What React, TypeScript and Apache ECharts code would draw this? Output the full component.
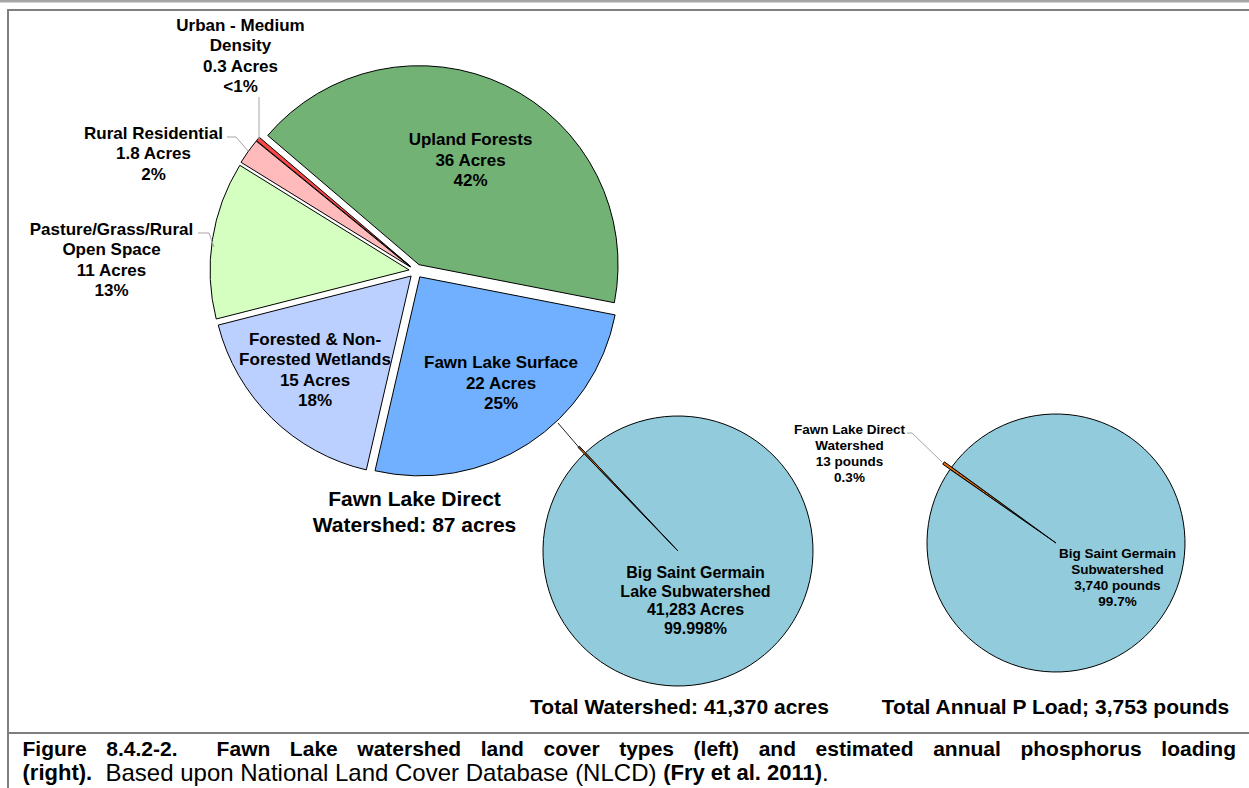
import React, { useEffect, useRef } from 'react';
import * as echarts from 'echarts';

// ---------- data ----------
const landCoverNames = [
  'Upland Forests',
  'Fawn Lake Surface',
  'Forested & Non-\nForested Wetlands',
  'Pasture/Grass/Rural\nOpen Space',
  'Rural Residential',
  'Urban - Medium\nDensity',
];
const landCoverAcres = [36, 22, 15, 11, 1.8, 0.3];
const landCoverAcreLabels = ['36', '22', '15', '11', '1.8', '0.3'];
const landCoverPercentLabels = ['42%', '25%', '18%', '13%', '2%', '<1%'];

const watershedNames = ['Fawn Lake Direct Watershed', 'Big Saint Germain\nLake Subwatershed'];
const watershedAcres = [87, 41283];
const watershedAcreLabels = ['87', '41,283'];
const watershedPercentLabels = ['0.2%', '99.998%'];

const loadNames = ['Fawn Lake Direct\nWatershed', 'Big Saint Germain\nSubwatershed'];
const loadPounds = [13, 3740];
const loadPoundLabels = ['13', '3,740'];
const loadPercentLabels = ['0.3%', '99.7%'];

const leftTitle = 'Fawn Lake Direct\nWatershed: 87 acres';
const middleTitle = 'Total Watershed: 41,370 acres';
const rightTitle = 'Total Annual P Load; 3,753 pounds';

const captionLine1Words = [
  'Figure', '8.4.2-2.', 'Fawn', 'Lake', 'watershed', 'land', 'cover', 'types', '(left)',
  'and', 'estimated', 'annual', 'phosphorus', 'loading',
];
const captionLine2 = [
  { text: '(right).', bold: true },
  { text: '  Based upon National Land Cover Database (NLCD) ', bold: false },
  { text: '(Fry et al. 2011)', bold: true },
  { text: '.', bold: false },
];

// ---------- styles ----------
const landCoverColors = ['#72B275', '#71B0FF', '#BCD0FF', '#D4FFC0', '#FFBBBB', '#FF4545'];
const smallSliceColor = '#E46C0A';
const bigSliceColor = '#92CCDC';
const FONT = "'Liberation Sans', Arial, Helvetica, sans-serif";

function measure(text: string, font: string): number {
  const ctx = document.createElement('canvas').getContext('2d')!;
  ctx.font = font;
  return ctx.measureText(text).width;
}

export default function App() {
  const ref = useRef<HTMLDivElement>(null);

  useEffect(() => {
    document.body.style.margin = '0';
    const chart = echarts.init(ref.current!, null, { renderer: 'svg' });

    const labelBase = {
      color: '#000',
      fontFamily: FONT,
      fontWeight: 'bold' as const,
    };

    const leftGeom = { center: [416, 271], radius: 199, startAngle: 139.5 };
    const midGeom = { center: [678, 551], radius: 135, startAngle: 134 };
    const rightGeom = { center: [1056, 543], radius: 129, startAngle: 145.2 };

    // sector series (drawing only)
    const sectorSeries = (geom: any, data: any[], offset: number) => ({
      type: 'pie',
      ...geom,
      clockwise: true,
      selectedMode: 'multiple',
      selectedOffset: offset,
      avoidLabelOverlap: false,
      emphasis: { disabled: true },
      silent: true,
      itemStyle: { borderColor: '#000', borderWidth: 1 },
      label: { show: false },
      labelLine: { show: false },
      data,
    });

    // label series (transparent sectors, same geometry, carries the labels)
    const labelSeries = (geom: any, values: number[], names: string[], positions: string[], extra: any) => ({
      type: 'pie',
      ...geom,
      clockwise: true,
      silent: true,
      z: 5,
      avoidLabelOverlap: false,
      emphasis: { disabled: true },
      itemStyle: { color: 'rgba(0,0,0,0)', borderWidth: 0 },
      data: values.map((v, i) => ({
        value: v,
        name: names[i],
        label: { position: positions[i] },
        labelLine: { show: positions[i] === 'outside' },
      })),
      ...extra,
    });

    const landData = landCoverAcres.map((v, i) => ({
      value: v,
      name: landCoverNames[i],
      selected: true,
      itemStyle: { color: landCoverColors[i] },
    }));
    const watershedData = watershedAcres.map((v, i) => ({
      value: v,
      name: watershedNames[i],
      selected: i === 0,
      itemStyle: { color: i === 0 ? smallSliceColor : bigSliceColor },
    }));
    const loadData = loadPounds.map((v, i) => ({
      value: v,
      name: loadNames[i],
      selected: i === 0,
      itemStyle: { color: i === 0 ? smallSliceColor : bigSliceColor },
    }));

    // left pie label placement (center x, y)
    const leftLabelPos: any[] = [
      { x: 470.5, y: 160, verticalAlign: 'middle' },
      { x: 501, y: 383, verticalAlign: 'middle' },
      { x: 315, y: 370, verticalAlign: 'middle' },
      { x: 111.5, y: 219, verticalAlign: 'top', pts: [[214, 247], [209, 233], [198, 233]] },
      { x: 153.5, y: 123, verticalAlign: 'top', pts: [[248, 151], [236, 137], [227, 137]] },
      { x: 240.5, y: 15, verticalAlign: 'top', pts: [[259, 139], [259, 117], [259, 97]] },
    ];

    // caption line 1 justified
    const capBold = `bold 21px ${FONT}`;
    const cap2Bold = `bold 22px ${FONT}`;
    const cap2Normal = `24px ${FONT}`;
    const capLeft = 22.5;
    const capRight = 1236;
    const widths = captionLine1Words.map((w) => measure(w, capBold));
    const sumW = widths.reduce((a, b) => a + b, 0);
    const gapUnits = captionLine1Words.length - 1 + 1;
    const unit = (capRight - capLeft - sumW) / gapUnits;
    let cx = capLeft;
    const line1Elements: any[] = captionLine1Words.map((w, i) => {
      const el = {
        type: 'text',
        x: cx,
        y: 748.5,
        style: { text: w, font: capBold, fill: '#000', textAlign: 'left', textVerticalAlign: 'middle', align: 'left', verticalAlign: 'middle' },
      };
      cx += widths[i] + unit * (i === 1 ? 2 : 1);
      return el;
    });
    let cx2 = capLeft;
    const line2Elements: any[] = captionLine2.map((seg) => {
      const f = seg.bold ? cap2Bold : cap2Normal;
      const el = {
        type: 'text',
        x: cx2,
        y: 772,
        style: { text: seg.text, font: f, fill: '#000', textAlign: 'left', textVerticalAlign: 'middle', align: 'left', verticalAlign: 'middle' },
      };
      cx2 += measure(seg.text, f);
      return el;
    });

    const titleText = (text: string, x: number, y: number) => ({
      type: 'text',
      x,
      y,
      style: {
        text,
        font: `bold 21px ${FONT}`,
        lineHeight: 26,
        fill: '#000',
        textAlign: 'center',
        textVerticalAlign: 'middle',
        align: 'center',
        verticalAlign: 'middle',
      },
    });

    const option: any = {
      animation: false,
      backgroundColor: '#fff',
      graphic: [
        { type: 'rect', shape: { x: 0, y: 0, width: 1249, height: 2.5 }, style: { fill: '#A6A6A6' } },
        { type: 'line', shape: { x1: 8, y1: 10, x2: 1249, y2: 10 }, style: { stroke: '#7F7F7F', lineWidth: 2 } },
        { type: 'line', shape: { x1: 8, y1: 9, x2: 8, y2: 788 }, style: { stroke: '#7F7F7F', lineWidth: 2 } },
        { type: 'line', shape: { x1: 8, y1: 733, x2: 1249, y2: 733 }, style: { stroke: '#7F7F7F', lineWidth: 2 } },
        titleText(leftTitle, 414.5, 511),
        titleText(middleTitle, 679.5, 706),
        titleText(rightTitle, 1055.5, 706),
        ...line1Elements,
        ...line2Elements,
      ],
      series: [
        sectorSeries(leftGeom, landData, 7),
        sectorSeries(midGeom, watershedData, 9),
        sectorSeries(rightGeom, loadData, 9),
        labelSeries(leftGeom, landCoverAcres, landCoverNames,
          ['inside', 'inside', 'inside', 'outside', 'outside', 'outside'], {
          label: {
            ...labelBase,
            fontSize: 17,
            lineHeight: 20.5,
            formatter: (p: any) =>
              `${landCoverNames[p.dataIndex]}\n${landCoverAcreLabels[p.dataIndex]} Acres\n${landCoverPercentLabels[p.dataIndex]}`,
          },
          labelLine: { show: true, lineStyle: { color: '#A6A6A6', width: 1 } },
          labelLayout: (p: any) => {
            const d = leftLabelPos[p.dataIndex];
            const r: any = { x: d.x, y: d.y, align: 'center', verticalAlign: d.verticalAlign };
            if (d.pts) r.labelLinePoints = d.pts;
            return r;
          },
        }),
        labelSeries(midGeom, watershedAcres, watershedNames, ['outside', 'inside'], {
          label: {
            ...labelBase,
            fontSize: 16,
            lineHeight: 18.7,
            formatter: (p: any) =>
              p.dataIndex === 0
                ? ' '
                : `${watershedNames[p.dataIndex]}\n${watershedAcreLabels[p.dataIndex]} Acres\n${watershedPercentLabels[p.dataIndex]}`,
          },
          labelLine: { show: true, lineStyle: { color: '#222', width: 1 } },
          labelLayout: (p: any) => {
            if (p.dataIndex === 0) {
              return { x: 558, y: 423, labelLinePoints: [[582, 451], [570, 437], [558, 423]] };
            }
            return { x: 695.5, y: 600.5, align: 'center', verticalAlign: 'middle' };
          },
        }),
        labelSeries(rightGeom, loadPounds, loadNames, ['outside', 'inside'], {
          label: {
            ...labelBase,
            fontSize: 13.5,
            lineHeight: 16,
            formatter: (p: any) =>
              `${loadNames[p.dataIndex]}\n${loadPoundLabels[p.dataIndex]} pounds\n${loadPercentLabels[p.dataIndex]}`,
          },
          labelLine: { show: true, lineStyle: { color: '#A6A6A6', width: 1 } },
          labelLayout: (p: any) => {
            if (p.dataIndex === 0) {
              return {
                x: 849.5,
                y: 421.7,
                align: 'center',
                verticalAlign: 'top',
                labelLinePoints: [[942, 462], [912, 433], [907, 433]],
              };
            }
            return { x: 1117.5, y: 577, align: 'center', verticalAlign: 'middle' };
          },
        }),
      ],
    };

    chart.setOption(option);
    return () => chart.dispose();
  }, []);

  return <div ref={ref} style={{ width: 1249, height: 788 }} />;
}
